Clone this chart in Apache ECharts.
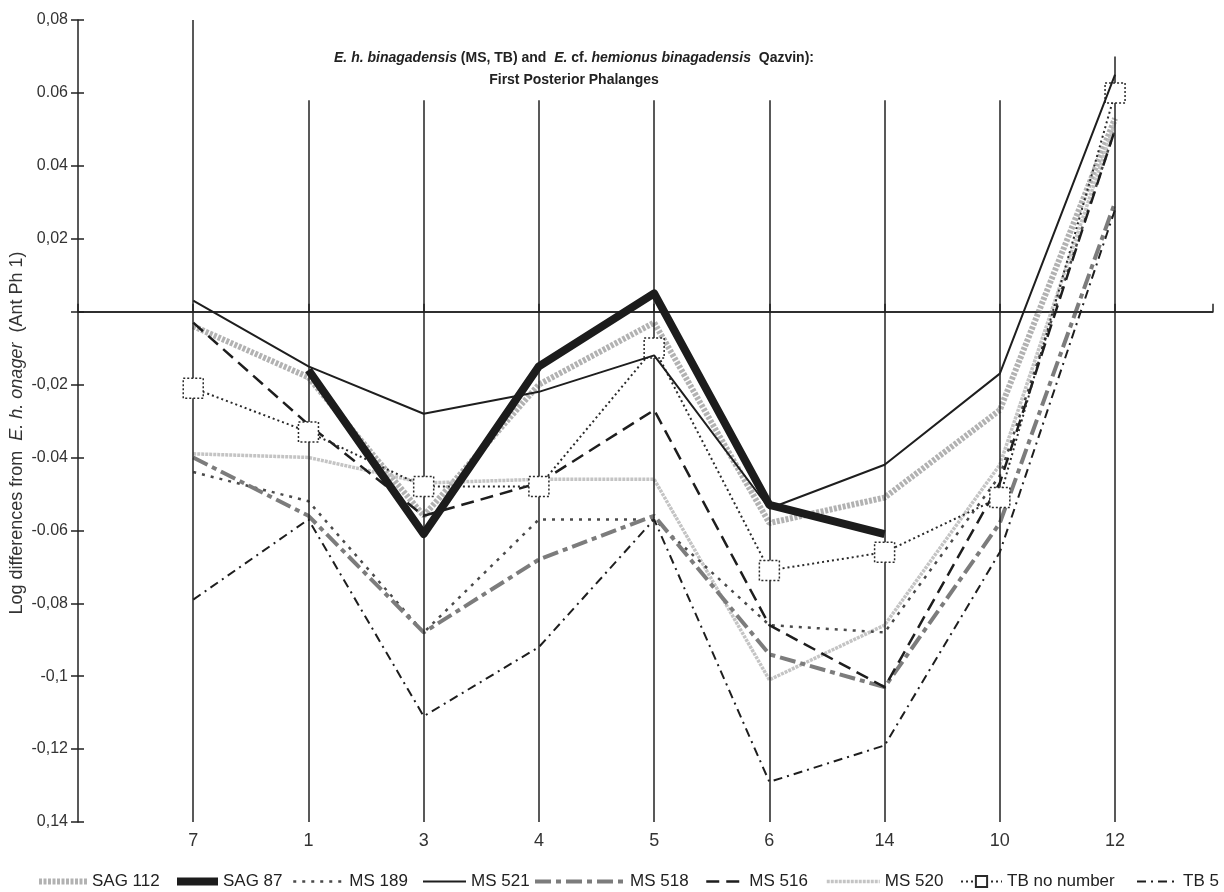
<!DOCTYPE html>
<html><head><meta charset="utf-8">
<script src="https://cdn.jsdelivr.net/npm/echarts@6/dist/echarts.min.js"></script>
<style>html,body{margin:0;padding:0;background:#fff}#c{width:1224px;height:892px}</style>
</head><body><div id="c"></div>
<script>
// ---- data ----
const categories = ['7','1','3','4','5','6','14','10','12'];
const yTickValues = [-0.14,-0.12,-0.1,-0.08,-0.06,-0.04,-0.02,0,0.02,0.04,0.06,0.08];
const yTickLabels = ['0,14','-0,12','-0,1','-0,08','-0.06','-0.04','-0,02','','0,02','0.04','0.06','0,08'];
const seriesNames = ['SAG 112','SAG 87','MS 189','MS 521','MS 518','MS 516','MS 520','TB no number','TB 5'];
const sag112 = [-0.004,-0.018,-0.056,-0.020,-0.003,-0.058,-0.051,-0.027,0.053];
const sag87  = [null,-0.016,-0.061,-0.015,0.005,-0.053,-0.061,null,null];
const ms189  = [-0.044,-0.052,-0.088,-0.057,-0.057,-0.086,-0.088,-0.045,0.050];
const ms521  = [0.003,-0.015,-0.028,-0.022,-0.012,-0.054,-0.042,-0.017,0.065];
const ms518  = [-0.040,-0.056,-0.088,-0.068,-0.056,-0.094,-0.103,-0.058,0.030];
const ms516  = [-0.003,-0.031,-0.056,-0.047,-0.027,-0.086,-0.103,-0.047,0.050];
const ms520  = [-0.039,-0.040,-0.047,-0.046,-0.046,-0.101,-0.086,-0.042,0.052];
const tbNoNumber = [-0.021,-0.033,-0.048,-0.048,-0.010,-0.071,-0.066,-0.051,0.060];
const tb5    = [-0.079,-0.057,-0.111,-0.092,-0.057,-0.129,-0.119,-0.066,0.028];

const FONT = "'Liberation Sans Narrow','Arial Narrow','Liberation Sans',Arial,sans-serif";
const Y_MIN = -0.14, Y_MAX = 0.08, X_MAX = 9.85;

function pts(arr){ const out=[]; arr.forEach((v,i)=>{ if(v!==null) out.push([i+1,v]); }); return out; }
function line(name, arr, ls, extra){
  return Object.assign({name, type:'line', data:pts(arr), symbol:'none', smooth:false,
    lineStyle:ls, itemStyle:{color:ls.color}, emphasis:{disabled:true}, animation:false}, extra||{});
}
const labelMap = {}; yTickValues.forEach((v,i)=>labelMap[v.toFixed(2)] = yTickLabels[i]);

// vertical category lines + zero line
const vTop = categories.map((c,i)=> (i===0 ? Y_MAX : (i===categories.length-1 ? 0.07 : 0.058)));
const guide = {
  name:'guides', type:'line', data:[], silent:true, animation:false, z:1,
  markLine:{symbol:'none', silent:true, label:{show:false}, animation:false,
    lineStyle:{color:'#222', width:1.5, type:'solid'},
    data: categories.map((c,i)=>[{coord:[i+1,Y_MIN]},{coord:[i+1,vTop[i]]}])
      .concat([[{coord:[0,0]},{coord:[X_MAX,0]}]])
  }
};

const styles = {
  'SAG 112': {color:'#b2b2b2', width:6, type:[3,1.5]},
  'SAG 87': {color:'#1c1c1c', width:8, type:'solid', join:'round'},
  'MS 189': {color:'#4a4a4a', width:2.5, type:[3,6]},
  'MS 521': {color:'#1e1e1e', width:2, type:'solid'},
  'MS 518': {color:'#7c7c7c', width:4, type:[16,5,5,5]},
  'MS 516': {color:'#1e1e1e', width:2.5, type:[13,7]},
  'MS 520': {color:'#c4c4c4', width:3.5, type:[3,1]},
  'TB no number': {color:'#2a2a2a', width:2, type:[2,3]},
  'TB 5': {color:'#1e1e1e', width:2, type:[9,5,2,5]}
};

const series = [
  guide,
  line('SAG 112', sag112, styles['SAG 112'], {z:3}),
  line('SAG 87', sag87, styles['SAG 87'], {z:9}),
  line('MS 189', ms189, styles['MS 189'], {z:4}),
  line('MS 521', ms521, styles['MS 521'], {z:8}),
  line('MS 518', ms518, styles['MS 518'], {z:4}),
  line('MS 516', ms516, styles['MS 516'], {z:5}),
  line('MS 520', ms520, styles['MS 520'], {z:3}),
  line('TB no number', tbNoNumber, styles['TB no number'],
       {z:6, symbol:'rect', symbolSize:20, showSymbol:true,
        itemStyle:{color:'#ffffff', borderColor:'#2a2a2a', borderWidth:1.5, borderType:[2,2]}}),
  line('TB 5', tb5, styles['TB 5'], {z:5})
];

// legends positioned individually
const legendPos = [
  [36,48],[173,41],[292,51],[422,43],[533,90],[705,38],[825,53],[960,41],[1136,41]
];
const legends = seriesNames.map((n,i)=>({
  data:[n], left:legendPos[i][0], top:873, itemWidth:legendPos[i][1], itemHeight:14, itemGap:0,
  selectedMode:false, padding:0,
  itemStyle: (n==='TB no number') ? {} : {opacity:0},
  lineStyle:{width:styles[n].width, type:styles[n].type, color:styles[n].color},
  textStyle:{fontFamily:FONT, fontSize:17, color:'#222'}
}));

const chart = echarts.init(document.getElementById('c'), null, {renderer:'canvas'});
chart.setOption({
  backgroundColor:'#ffffff',
  animation:false,
  title:{
    left:569, top:42, textAlign:'center',
    text:'{i|E. h. binagadensis} {b|(MS, TB) and}  {i|E.} {b|cf.} {i|hemionus binagadensis}  {b|Qazvin):}\n{b|First Posterior Phalanges}',
    textStyle:{
      fontFamily:FONT, fontSize:14, fontWeight:'bold', color:'#222', lineHeight:22,
      rich:{
        i:{fontFamily:FONT, fontSize:14, fontWeight:'bold', fontStyle:'italic', color:'#222', lineHeight:22},
        b:{fontFamily:FONT, fontSize:14, fontWeight:'bold', color:'#222', lineHeight:22}
      }
    }
  },
  graphic:[{
    type:'text', x:17, y:433, rotation:Math.PI/2, silent:true,
    style:{
      text:'{n|Log differences from  }{i|E. h. onager}{n|  (Ant Ph 1)}',
      align:'center', verticalAlign:'middle',
      rich:{
        n:{fontFamily:FONT, fontSize:18, fill:'#333', color:'#333'},
        i:{fontFamily:FONT, fontSize:18, fill:'#333', color:'#333', fontStyle:'italic'}
      }
    }
  }],
  legend: legends,
  grid:{left:78, right:11, top:20, bottom:70, containLabel:false, outerBoundsMode:'none'},
  xAxis:{
    type:'value', min:0, max:X_MAX, interval:1,
    axisLine:{show:true, lineStyle:{color:'#222', width:1.5}},
    axisTick:{show:true, inside:true, length:8, lineStyle:{color:'#222', width:1.5}},
    splitLine:{show:false},
    axisLabel:{fontFamily:FONT, fontSize:18, color:'#333', margin:10,
      formatter:(v)=>{ const k=Math.round(v); return (Math.abs(v-k)<1e-6 && k>=1 && k<=categories.length) ? categories[k-1] : ''; }}
  },
  yAxis:[{
    type:'value', min:Y_MIN, max:Y_MAX, interval:0.02,
    axisLine:{show:true, lineStyle:{color:'#222', width:1.5}},
    axisTick:{show:true, length:7, lineStyle:{color:'#222', width:1.5}},
    splitLine:{show:false},
    axisLabel:{fontFamily:FONT, fontSize:16, color:'#333', margin:10,
      formatter:(v)=> (labelMap[v.toFixed(2)] !== undefined ? labelMap[v.toFixed(2)] : '')}
  },{
    type:'value', min:Y_MIN, max:Y_MAX, interval:0.02, position:'left', offset:0,
    axisLine:{show:false}, axisLabel:{show:false}, splitLine:{show:false},
    axisTick:{show:true, inside:true, length:6, lineStyle:{color:'#222', width:1.5}}
  }],
  series: series
});
</script>
</body></html>
